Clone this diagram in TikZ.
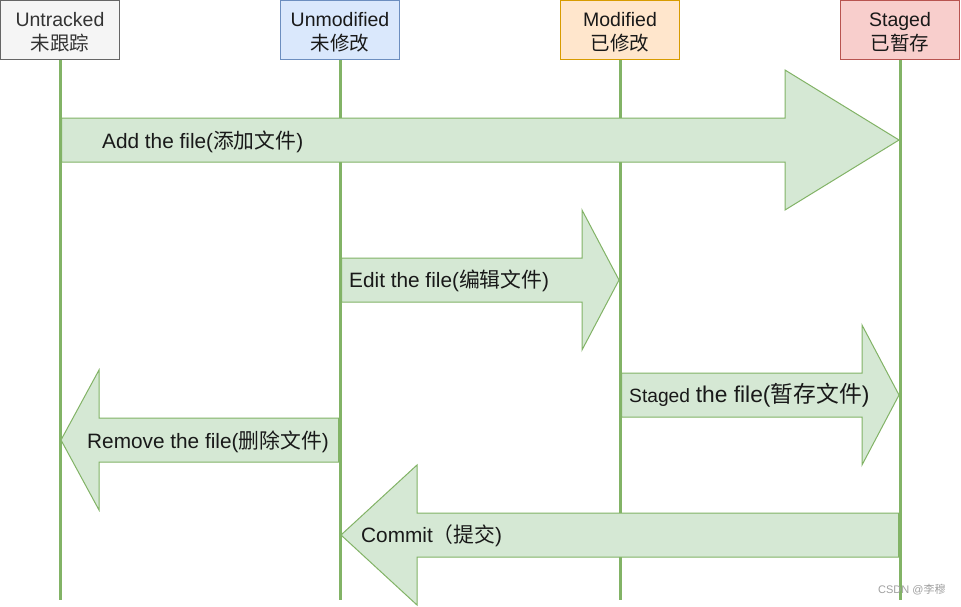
\documentclass[tikz,border=0pt]{standalone}
\usepackage{fontspec}
\setmainfont{Liberation Sans}
\newfontfamily\cjk{Noto Sans CJK SC}
\definecolor{gstroke}{HTML}{82B366}
\definecolor{gfill}{HTML}{D5E8D4}
\definecolor{grayfill}{HTML}{F5F5F5}
\definecolor{graystroke}{HTML}{666666}
\definecolor{grayfont}{HTML}{333333}
\definecolor{bluefill}{HTML}{DAE8FC}
\definecolor{bluestroke}{HTML}{6C8EBF}
\definecolor{orangefill}{HTML}{FFE6CC}
\definecolor{orangestroke}{HTML}{D79B00}
\definecolor{redfill}{HTML}{F8CECC}
\definecolor{redstroke}{HTML}{B85450}
\definecolor{wm}{HTML}{A0A0A0}
\begin{document}
\begin{tikzpicture}[x=1pt,y=-1pt,
  header/.style={draw, line width=1pt, minimum width=119pt, minimum height=59pt, inner sep=0pt},
  htext/.style={inner sep=0pt, align=center, font=\fontsize{19.5}{23.5}\selectfont},
  life/.style={draw=gstroke, line width=3pt},
  bigarrow/.style={draw=gstroke, fill=gfill, line width=1pt, line join=miter},
  lbl/.style={anchor=west, inner sep=0pt, font=\fontsize{20.8}{24}\selectfont, text=black!90}
]
\useasboundingbox (0,0) rectangle (961,606);
\fill[white] (0,0) rectangle (961,606);

% headers
\node[header, fill=grayfill, draw=graystroke] (h1) at (60,30) {};
\node[header, fill=bluefill, draw=bluestroke] (h2) at (340,30) {};
\node[header, fill=orangefill, draw=orangestroke] (h3) at (620,30) {};
\node[header, fill=redfill, draw=redstroke] (h4) at (900,30) {};
\node[htext, text=grayfont] (t1) at (60,32) {Untracked\\{\cjk 未跟踪}};
\node[htext, text=black!90] (t2) at (340,32) {Unmodified\\{\cjk 未修改}};
\node[htext, text=black!90] (t3) at (620,32) {Modified\\{\cjk 已修改}};
\node[htext, text=black!90] (t4) at (900,32) {Staged\\{\cjk 已暂存}};

% lifelines
\coordinate (e1) at (60,600);
\coordinate (e2) at (340,600);
\coordinate (e3) at (620,600);
\coordinate (e4) at (900,600);
\draw[life] (h1.south) -- (e1);
\draw[life] (h2.south) -- (e2);
\draw[life] (h3.south) -- (e3);
\draw[life] (h4.south) -- (e4);

% arrows
\draw[bigarrow] (61.5,118) -- (785,118) -- (785,70) -- (899,140) -- (785,210) -- (785,162) -- (61.5,162) -- cycle;
\draw[bigarrow] (341.5,258) -- (582,258) -- (582,210) -- (619,280) -- (582,350) -- (582,302) -- (341.5,302) -- cycle;
\draw[bigarrow] (621.5,373) -- (862,373) -- (862,325) -- (899,395) -- (862,465) -- (862,417) -- (621.5,417) -- cycle;
\draw[bigarrow] (338.5,418) -- (99,418) -- (99,370) -- (61,440) -- (99,510) -- (99,462) -- (338.5,462) -- cycle;
\draw[bigarrow] (898.5,513) -- (417,513) -- (417,465) -- (341,535) -- (417,605) -- (417,557) -- (898.5,557) -- cycle;

% labels
\node[lbl] (l1) at (102,141.5) {Add the file({\cjk 添加文件})};
\node[lbl] (l2) at (349,280.5) {Edit the file({\cjk 编辑文件})};
\node[lbl] (l3) at (629,395.5) {{\fontsize{19.2}{24}\selectfont Staged} {\fontsize{22.8}{24}\selectfont the file({\cjk 暂存文件})}};
\node[lbl] (l4) at (87,441.5) {Remove the file({\cjk 删除文件})};
\node[lbl] (l5) at (361,536) {Commit{\cjk （提交})};

% watermark
\node[anchor=west, inner sep=0pt, text=wm, font=\fontsize{11}{13}\selectfont] (wmark) at (878,590) {CSDN @{\cjk 李穆}};
\end{tikzpicture}
\end{document}
